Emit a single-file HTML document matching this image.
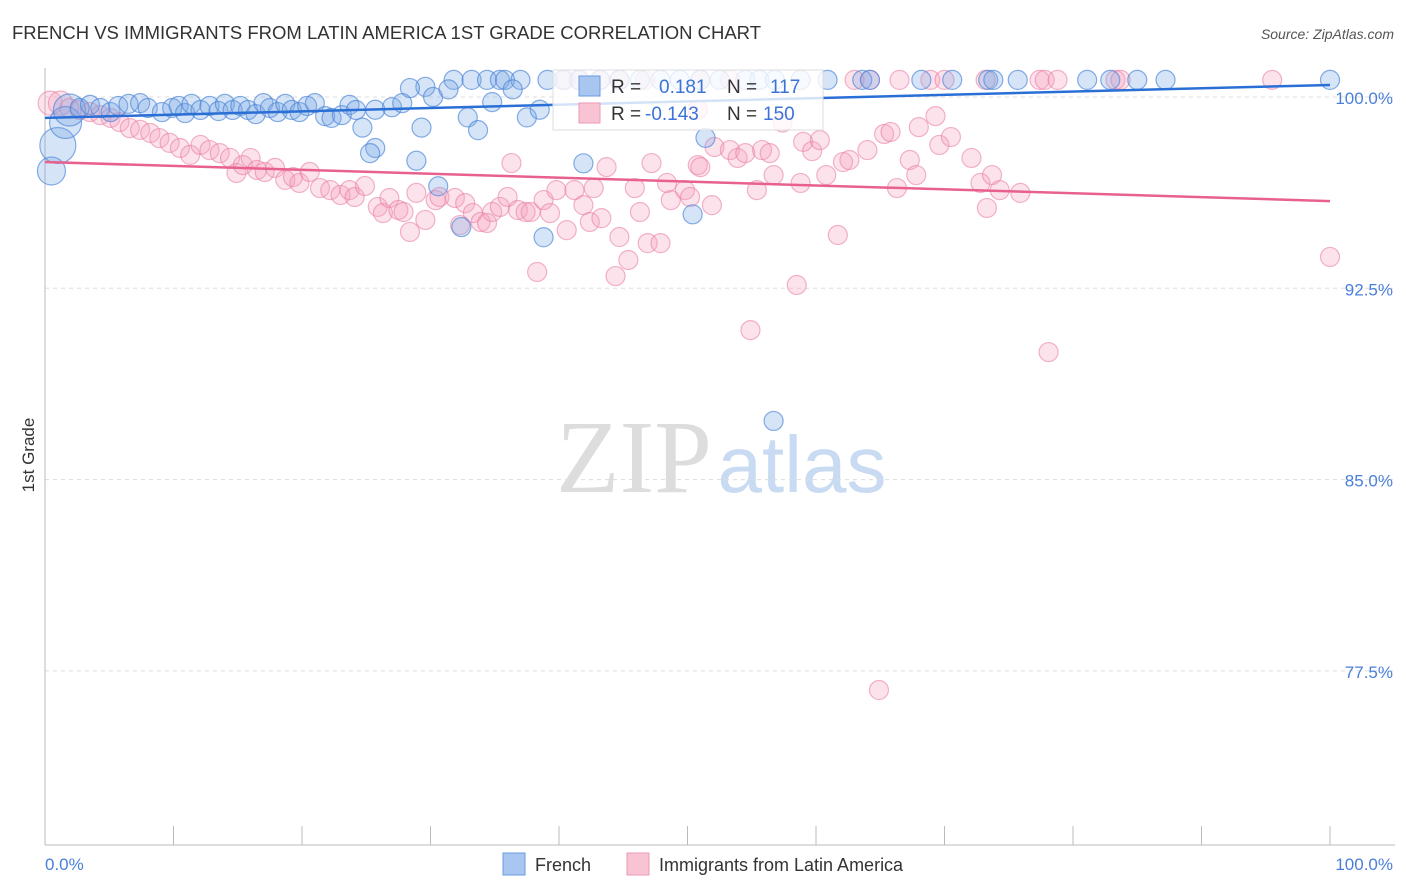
<!DOCTYPE html>
<html><head><meta charset="utf-8"><style>
body{margin:0;background:#fff;font-family:"Liberation Sans",sans-serif;}
svg{display:block}
</style></head><body>
<svg id="chart" width="1406" height="892">
<text x="12" y="39" font-size="18.5" fill="#333">FRENCH VS IMMIGRANTS FROM LATIN AMERICA 1ST GRADE CORRELATION CHART</text>
<text x="1394" y="39" font-size="14" fill="#555" font-style="italic" text-anchor="end">Source: ZipAtlas.com</text>
<g>
<text x="634" y="492" font-size="104" font-family="Liberation Serif,serif" fill="#ddd" text-anchor="middle">ZIP</text>
<text x="802" y="492" font-size="80" fill="#c9dbf2" text-anchor="middle">atlas</text>
</g>
<g id="grid"></g>
<g id="axes"></g>
<g id="pink"></g>
<g id="blue"></g>
<g id="lines"></g>
<text transform="translate(34,455) rotate(-90)" font-size="17" fill="#333" text-anchor="middle">1st Grade</text>
<g>
<rect x="553" y="70" width="270" height="60" fill="#fff" fill-opacity="0.8" stroke="#ddd"/>
<rect x="579" y="76" width="21" height="20" fill="#a9c6f0" stroke="#6a9be0"/>
<text x="611" y="93" font-size="19" fill="#333">R = </text><text x="659" y="93" font-size="19" fill="#3c73d6">0.181</text>
<text x="727" y="93" font-size="19" fill="#333">N = </text><text x="770" y="93" font-size="19" fill="#3c73d6">117</text>
<rect x="579" y="103" width="21" height="20" fill="#f8c3d3" stroke="#eb9ab4"/>
<text x="611" y="120" font-size="19" fill="#333">R = </text><text x="645" y="120" font-size="19" fill="#3c73d6">-0.143</text>
<text x="727" y="120" font-size="19" fill="#333">N = </text><text x="763" y="120" font-size="19" fill="#3c73d6">150</text>
</g>
<g>
<rect x="503" y="853" width="22" height="22" fill="#a9c6f0" stroke="#6a9be0"/>
<text x="535" y="871" font-size="18" fill="#333">French</text>
<rect x="627" y="853" width="22" height="22" fill="#f8c3d3" stroke="#eb9ab4"/>
<text x="659" y="871" font-size="18" fill="#333">Immigrants from Latin America</text>
</g>
</svg>
<script>
const yTicks=[100,92.5,85,77.5];
const yTickLabels=["100.0%","92.5%","85.0%","77.5%"];
const blueX=[31.8,33.2,34.4,35.4,35.8,37.0,39.1,40.3,41.6,43.2,44.7,46.3,47.9,49.4,51.0,52.5,54.5,55.6,56.8,58.8,60.9,63.6,64.2,68.2,70.6,73.4,73.8,75.7,81.1,82.9,85.0,87.2,100,
29.6,28.4,30.2,31.4,34.8,36.4,37.5,38.5,27.0,27.8,25.7,32.9,33.7,29.3,24.7,25.7,25.3,28.9,30.6,32.4,38.8,41.9,50.4,51.4,56.7,0.5,1.0,1.6,
1.9,2.7,3.5,4.3,5.1,5.7,6.5,7.4,8.0,9.1,9.9,10.4,10.9,11.4,12.1,12.8,13.5,14.0,14.6,15.2,15.8,16.4,17.0,17.5,18.1,18.7,19.2,19.8,20.4,21.0,21.8,22.3,23.1,23.7,24.2];
const blueY=[100.67,100.67,100.67,100.67,100.67,100.67,100.67,100.67,100.67,100.67,100.67,100.67,100.67,100.67,100.67,100.67,100.67,100.67,100.67,100.67,100.67,100.67,100.67,100.67,100.67,100.67,100.67,100.67,100.67,100.67,100.67,100.67,100.67,
100.4,100.35,100.0,100.3,99.8,100.3,99.2,99.5,99.6,99.76,99.5,99.2,98.7,98.8,98.8,98.0,97.8,97.5,96.5,94.9,94.5,97.4,95.4,98.4,87.3,97.1,98.1,99.0,
99.49,99.57,99.69,99.57,99.41,99.65,99.73,99.76,99.57,99.41,99.57,99.65,99.37,99.73,99.49,99.65,99.45,99.73,99.49,99.65,99.49,99.33,99.76,99.57,99.41,99.73,99.49,99.41,99.65,99.76,99.25,99.18,99.29,99.69,99.49];
const pinkX=[0.4,1.2,1.9,2.7,3.5,4.3,5.1,5.8,6.6,7.4,8.2,8.9,9.7,10.5,11.3,12.1,12.8,13.6,14.4,14.9,15.4,16.0,16.5,17.1,17.9,18.7,19.3,19.8,20.6,21.4,22.2,23.0,23.7,24.1,24.9,25.9,26.3,26.8,27.5,27.9,28.4,28.9,29.6,30.4,30.7,31.9,32.3,32.7,33.3,33.9,34.4,34.8,35.4,36.0,36.3,36.8,37.4,37.8,38.3,38.8,39.3,39.8,40.6,41.2,41.9,42.4,42.7,43.3,43.7,44.4,44.7,45.4,45.9,46.3,46.9,47.2,47.9,48.4,48.7,49.8,50.2,50.8,51.0,51.9,52.1,53.3,53.9,54.5,54.9,55.4,55.8,56.4,56.7,58.5,58.8,59.0,59.7,60.3,60.8,61.7,62.1,62.6,64.0,64.9,65.3,65.8,66.3,67.3,67.8,68.0,69.3,69.6,70.5,72.1,72.8,73.3,73.7,74.3,75.9,78.1,100,
40.5,41.5,43.2,44.7,46.7,51.0,53.3,63.0,64.2,66.5,68.9,70.0,73.2,77.4,77.8,78.8,83.3,83.7,95.5,50.8,57.4];
const pinkY=[99.76,99.76,99.57,99.49,99.41,99.29,99.18,99.02,98.78,98.71,98.59,98.39,98.2,98.0,97.73,98.12,97.92,97.8,97.61,97.02,97.33,97.61,97.14,97.06,97.22,96.75,96.86,96.63,97.06,96.43,96.35,96.16,96.35,96.08,96.51,95.69,95.45,96.04,95.57,95.49,94.71,96.24,95.18,95.96,96.08,96.04,94.98,95.84,95.45,95.1,95.06,95.49,95.69,96.08,97.41,95.57,95.49,95.49,93.14,95.96,95.45,96.35,94.78,96.35,95.76,95.1,96.43,95.25,97.25,92.98,94.51,93.61,96.43,95.49,94.27,97.41,94.27,96.63,95.96,96.35,96.08,97.33,97.25,95.76,98.04,97.92,97.61,97.8,90.86,96.35,97.92,97.8,96.94,92.63,96.63,98.24,97.88,98.31,96.94,94.59,97.45,97.53,97.92,76.75,98.55,98.63,96.43,97.53,96.94,98.82,99.25,98.12,98.43,97.61,96.63,95.65,96.94,96.35,96.24,90.0,93.73,
100.67,100.67,100.67,100.67,100.67,100.67,100.67,100.67,100.67,100.67,100.67,100.67,100.67,100.67,100.67,100.67,100.67,100.67,100.67,99.5,99.0];
const blueTrend=[99.18,100.47];
const pinkTrend=[97.45,95.92];
const X0=45,X1=1330,Y100=97,PXPER=191.3/7.5;
const sx=v=>X0+(X1-X0)*v/100;
const sy=v=>Y100+(100-v)*PXPER;
const NS="http://www.w3.org/2000/svg";
function mk(tag,attrs,parent){const e=document.createElementNS(NS,tag);for(const k in attrs)e.setAttribute(k,attrs[k]);parent.appendChild(e);return e;}
const grid=document.getElementById('grid');
yTicks.forEach((t,i)=>{
 const l=mk('line',{x1:45,x2:1395,y1:sy(t),y2:sy(t),stroke:'#ddd','stroke-dasharray':'4,4'},grid);
 
 
 const tx=mk('text',{x:1393,y:sy(t)+7,'font-size':17,fill:'#4a7fd8','text-anchor':'end'},grid);
 tx.textContent=yTickLabels[i];
 
 
});
const axes=document.getElementById('axes');
const ya=mk('line',{x1:45,x2:45,y1:68,y2:845,stroke:'#bbb'},axes);


const xa=mk('line',{x1:45,x2:1395,y1:845,y2:845,stroke:'#bbb'},axes);


for(let i=0;i<=10;i++){
 const t=mk('line',{x1:sx(i*10),x2:sx(i*10),y1:826,y2:845,stroke:'#bbb'},axes);
 
 
}
const xl0=mk('text',{x:45,y:870,'font-size':17,fill:'#4a7fd8'},axes);xl0.textContent='0.0%';


const xl1=mk('text',{x:1393,y:870,'font-size':17,fill:'#4a7fd8','text-anchor':'end'},axes);xl1.textContent='100.0%';


function pts(gid,xs,ys,fill,stroke,name){
 const g=document.getElementById(gid);
 xs.forEach((x,i)=>{
  let r=9.5;
  if(gid==='blue'&&x<2)r=x<0.7?14:(x<1.2?18:16);
  if(gid==='pink'&&x<1.5)r=12;
  const c=mk('circle',{cx:sx(x),cy:sy(ys[i]),r:r,fill:fill,stroke:stroke,'stroke-width':1.2},g);
  
  
 });
}
pts('pink',pinkX,pinkY,'rgba(244,160,188,0.3)','rgba(232,120,160,0.55)','latam-point');
pts('blue',blueX,blueY,'rgba(120,165,230,0.3)','rgba(70,130,215,0.65)','french-point');
const lg=document.getElementById('lines');
const bl=mk('line',{x1:sx(0),y1:sy(blueTrend[0]),x2:sx(100),y2:sy(blueTrend[1]),stroke:'#2a6fd6','stroke-width':2.5},lg);


const pl=mk('line',{x1:sx(0),y1:sy(pinkTrend[0]),x2:sx(100),y2:sy(pinkTrend[1]),stroke:'#e8608e','stroke-width':2.5},lg);


</script>
</body></html>
